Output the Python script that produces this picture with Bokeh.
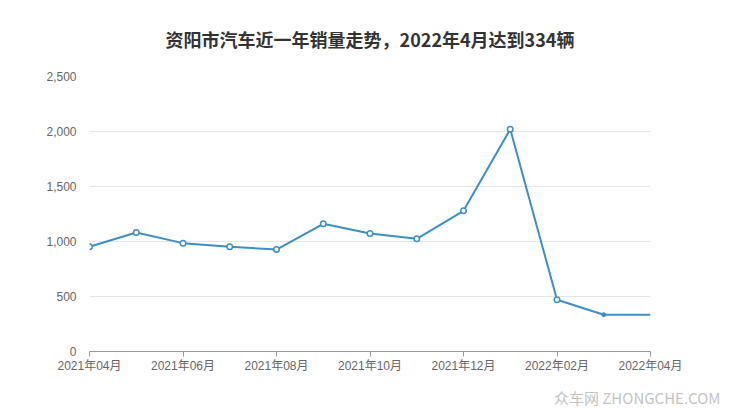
from bokeh.plotting import figure
from bokeh.models import ColumnDataSource, FixedTicker, NumeralTickFormatter, Title, Range1d
from bokeh.embed import file_html
from bokeh.resources import INLINE

title_text = "资阳市汽车近一年销量走势，2022年4月达到334辆"
months = ["2021年04月", "2021年05月", "2021年06月", "2021年07月", "2021年08月", "2021年09月",
          "2021年10月", "2021年11月", "2021年12月", "2022年01月", "2022年02月", "2022年03月",
          "2022年04月"]
sales = [952, 1082, 985, 952, 927, 1161, 1073, 1024, 1279, 2021, 470, 334, 334]
y_ticks = [0, 500, 1000, 1500, 2000, 2500]

idx = list(range(len(months)))
src = ColumnDataSource(dict(x=idx, y=sales, m=months))
src_pts = ColumnDataSource(dict(x=idx[:11], y=sales[:11]))

FONT = "Liberation Sans, Noto Sans CJK SC"

p = figure(width=740, height=417, output_backend="svg", toolbar_location=None,
           x_range=Range1d(0, len(months) - 1), y_range=Range1d(0, y_ticks[-1]),
           min_border_left=89, min_border_right=90, min_border_top=76, min_border_bottom=66)
p.outline_line_color = None
p.background_fill_color = "white"

p.title.text = title_text
p.title.align = "center"
p.title.vertical_align = "top"
p.title.text_font = "Noto Sans CJK SC"
p.title.text_font_size = "18px"
p.title.text_font_style = "bold"
p.title.text_color = "#333333"
p.title.standoff = 46

wm = Title(text="众车网 ZHONGCHE.COM", align="right", text_font="Noto Sans CJK SC",
           text_font_size="15px", text_font_style="normal", text_color="#c4c4c4")
wm.standoff = 19
wm.offset = -70
p.add_layout(wm, "below")

p.line("x", "y", source=src, line_color="#3c8fc6", line_width=2)
p.scatter("x", "y", source=src_pts, size=5.5, fill_color="white", line_color="#3c8fc6", line_width=1.5)
p.scatter([idx[11]], [sales[11]], size=4, fill_color="#3c8fc6", line_color="#3c8fc6")

p.xaxis.ticker = FixedTicker(ticks=idx[::2])
p.xaxis.major_label_overrides = {i: months[i] for i in idx}
p.xaxis.axis_line_color = "#999999"
p.xaxis.major_tick_line_color = "#999999"
p.xaxis.major_tick_out = 5
p.xaxis.major_tick_in = 0
p.xaxis.minor_tick_line_color = None
p.xaxis.major_label_text_font = FONT
p.xaxis.major_label_text_font_size = "12px"
p.xaxis.major_label_text_color = "#666666"
p.xaxis.major_label_standoff = 2

p.yaxis.ticker = FixedTicker(ticks=y_ticks)
p.yaxis.formatter = NumeralTickFormatter(format="0,0")
p.yaxis.axis_line_color = None
p.yaxis.major_tick_line_color = None
p.yaxis.minor_tick_line_color = None
p.yaxis.major_label_text_font = FONT
p.yaxis.major_label_text_font_size = "12px"
p.yaxis.major_label_text_color = "#666666"
p.yaxis.major_label_standoff = 7

p.xgrid.grid_line_color = None
p.ygrid.grid_line_color = "#e6e6e6"
p.ygrid.ticker = FixedTicker(ticks=y_ticks[1:])

open("out.html", "w").write(file_html(p, INLINE))
